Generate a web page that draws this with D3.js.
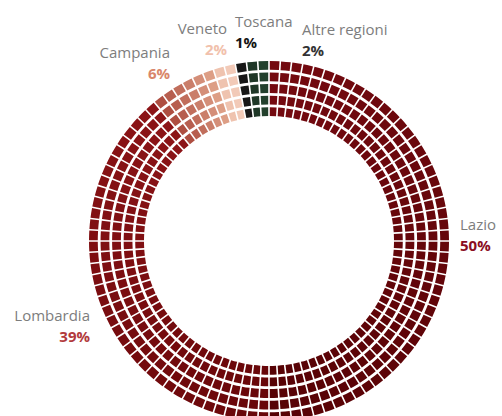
<!DOCTYPE html>
<html><head><meta charset="utf-8">
<script src="https://cdn.jsdelivr.net/npm/d3@7"></script>
<style>html,body{margin:0;background:#fff;overflow:hidden}</style>
</head><body><svg id="c" width="502" height="416"></svg>
<script>
// ---- data ----
const categories = ["Lazio", "Lombardia", "Campania", "Veneto", "Toscana", "Altre regioni"];
const values = [50, 39, 6, 2, 1, 2];
const valueLabels = ["50%", "39%", "6%", "2%", "1%", "2%"];
const rowCount = 5;
const cellsPerRow = 100;

// ---- styles / layout ----
const cellColors = {
  "Lazio": ["#740a10", "#560205"],
  "Lombardia": ["#680609", "#8c1417"],
  "Campania": ["#a9463a", "#e2a68c"],
  "Veneto": ["#eebfaa", "#f3cdbc"],
  "Toscana": ["#121212", "#1c1c1c"],
  "Altre regioni": ["#1d3324", "#24442e"]
};
const pctColors = {
  "Lazio": "#8a0d22", "Lombardia": "#b23a3c", "Campania": "#d9866b",
  "Veneto": "#f1c1ac", "Toscana": "#151515", "Altre regioni": "#333333"
};
const labelLayout = {
  "Lazio": {x: 460, y: 230, anchor: "start"},
  "Lombardia": {x: 90, y: 321, anchor: "end"},
  "Campania": {x: 170, y: 58, anchor: "end"},
  "Veneto": {x: 227, y: 34, anchor: "end"},
  "Toscana": {x: 235, y: 27, anchor: "start"},
  "Altre regioni": {x: 302, y: 35, anchor: "start"}
};
const cx = 269, cy = 241, rInner = 125, rOuter = 180;

const svg = d3.select("#c");
const g = svg.append("g").attr("transform", `translate(${cx},${cy})`);

const angle = d3.scaleLinear().domain([0, cellsPerRow]).range([0, 2 * Math.PI]);
const rowBand = d3.scaleBand().domain(d3.range(rowCount)).range([rInner, rOuter]).paddingInner(0.24);
const cum = Array.from(d3.cumsum(values));
const total = cum[cum.length - 1];
const share = d3.scaleLinear().domain([0, total]).range([0, cellsPerRow]);

const cells = [];
for (let r = 0; r < rowCount; r++) {
  for (let i = 0; i < cellsPerRow; i++) {
    const mid = i + 0.5;
    let k = cum.findIndex(c => share(c) > mid);
    if (k < 0) k = categories.length - 1;
    const segStart = share(k === 0 ? 0 : cum[k - 1]);
    const segEnd = share(cum[k]);
    const t = (mid - segStart) / Math.max(1e-6, segEnd - segStart);
    cells.push({row: r, i, cat: categories[k], t});
  }
}

const arc = d3.arc()
  .innerRadius(d => rowBand(d.row))
  .outerRadius(d => rowBand(d.row) + rowBand.bandwidth())
  .startAngle(d => angle(d.i))
  .endAngle(d => angle(d.i + 1))
  .padAngle(0.0107)
  .padRadius(150);

g.selectAll("path.cell").data(cells).join("path")
  .attr("class", "cell")
  .attr("d", arc)
  .attr("fill", d => d3.interpolateRgb(cellColors[d.cat][0], cellColors[d.cat][1])(d.t));

// ---- labels ----
const lab = svg.selectAll("g.lab").data(categories).join("g").attr("class", "lab");
lab.append("text")
  .attr("x", d => labelLayout[d].x)
  .attr("y", d => labelLayout[d].y)
  .attr("text-anchor", d => labelLayout[d].anchor)
  .attr("font-family", "'Open Sans', sans-serif")
  .attr("font-size", 15)
  .attr("fill", "#7d7d7d")
  .text(d => d);
lab.append("text")
  .attr("x", d => labelLayout[d].x)
  .attr("y", d => labelLayout[d].y + 21)
  .attr("text-anchor", d => labelLayout[d].anchor)
  .attr("font-family", "'Open Sans', sans-serif")
  .attr("font-size", 15)
  .attr("font-weight", "bold")
  .attr("fill", d => pctColors[d])
  .text((d, i) => valueLabels[i]);
</script>
</body></html>
